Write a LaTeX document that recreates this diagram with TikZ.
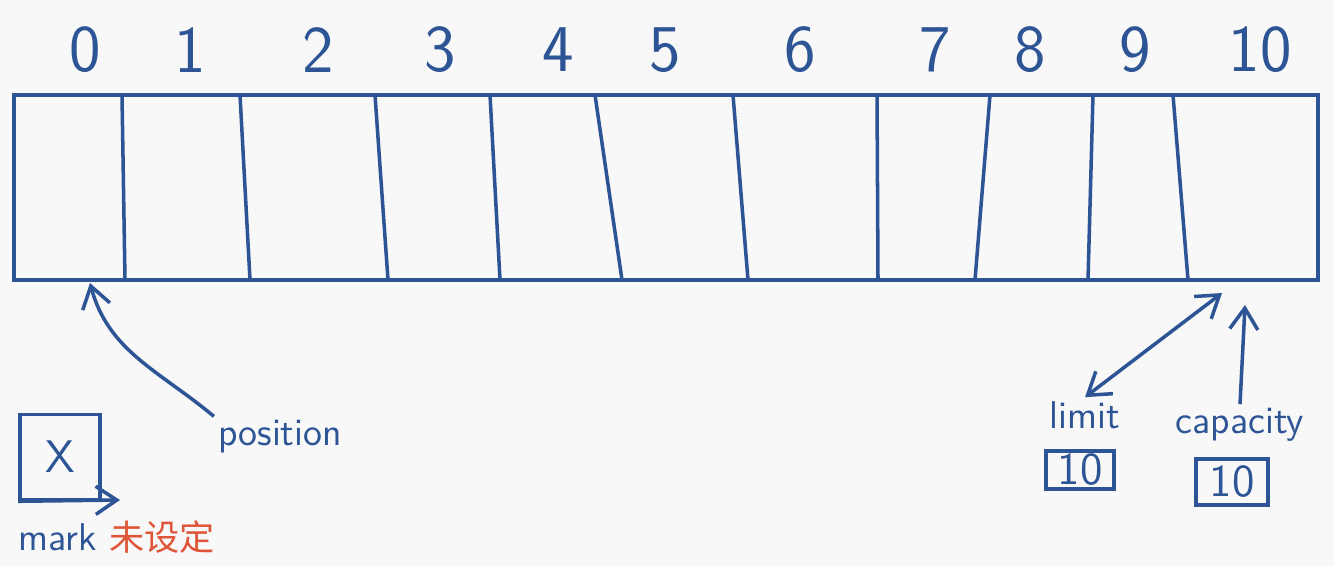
\documentclass[tikz,border=0pt]{standalone}
\usepackage{fontspec}
\newfontfamily\cjk{Noto Sans CJK SC}
\usetikzlibrary{arrows.meta,positioning}
\definecolor{inkblue}{RGB}{45,85,150}
\definecolor{inkred}{RGB}{222,85,55}
\definecolor{paper}{RGB}{248,248,248}

\begin{document}
\begin{tikzpicture}[x=0.01cm,y=-0.01cm,
  ink/.style={draw=inkblue, line width=1pt},
  arr/.style={ink, -{Straight Barb[length=6pt,width=8pt]}},
  idx/.style={text=inkblue, font=\sffamily\fontsize{19}{23}\selectfont},
  word/.style={text=inkblue, font=\sffamily\fontsize{11}{13}\selectfont, inner sep=1pt},
  valbox/.style={ink, text=inkblue, font=\sffamily\fontsize{13}{15}\selectfont, inner sep=0pt}]
\useasboundingbox (0,0) rectangle (1334,566);
\fill[paper] (0,0) rectangle (1334,566);

% the buffer
\draw[ink] (14,95) rectangle (1318,280);
\foreach \t/\b in {122/125,240/250,375/388,490/500,595/622,733/748,877/878,990/975,1093/1088,1173/1188}
    \draw[ink] (\t,95) -- (\b,280);

% cell indices
\foreach \x [count=\i from 0] in {85,190,318,440,558,665,800,935,1030,1135,1260}
    \node[idx] (c\i) at (\x,50) {\i};

% position
\node[word] (pos) at (280,437) {position};
\coordinate (postip) at (90,283);
\draw[arr] (pos.north west) to[out=140,in=-75] (postip);

% mark
\node[valbox, minimum width=0.8cm, minimum height=0.85cm] (markbox) at (60,457) {X};
\coordinate (markend) at (120,500);
\draw[arr] (markbox.south west) -- (markend);
\node[word] (mark) at (58,537) {mark};
\node[right=1pt of mark, text=inkred, font=\cjk\fontsize{10}{12}\selectfont, inner sep=1pt] (unset) {未设定};

% limit
\node[word] (limit) at (1085,415) {limit};
\node[valbox, minimum width=0.68cm, minimum height=0.38cm] (limbox) at (1080,470) {10};
\coordinate (limtip) at (1222,293);
\draw[ink, {Straight Barb[length=6pt,width=8pt]}-{Straight Barb[length=6pt,width=8pt]}] (limit.north) -- (limtip);

% capacity
\node[word] (cap) at (1240,425) {capacity};
\node[valbox, minimum width=0.72cm, minimum height=0.46cm] (capbox) at (1232,482) {10};
\coordinate (captip) at (1245,305);
\draw[arr] (cap.north) -- (captip);
\end{tikzpicture}
\end{document}
